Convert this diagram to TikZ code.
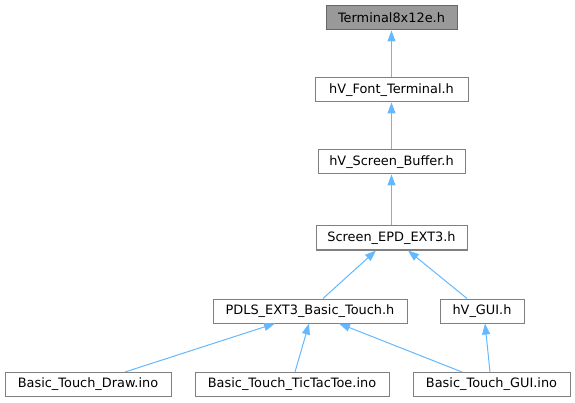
\documentclass[tikz,border=0pt]{standalone}
\usepackage{fontspec}
\setmainfont{DejaVu Sans}
\usetikzlibrary{arrows.meta}
\definecolor{edgeblue}{HTML}{63B8FF}
\definecolor{boxborder}{HTML}{808080}
\definecolor{hifill}{HTML}{999999}
\definecolor{hiborder}{HTML}{666666}
\tikzset{
  filebox/.style={draw=boxborder, line width=1pt, fill=white, minimum height=24pt,
    inner sep=0pt, font=\fontsize{12.9}{15}\selectfont, text=black},
  hibox/.style={filebox, fill=hifill, draw=hiborder},
  dep/.style={draw=edgeblue, line width=1pt, -{Triangle[length=11pt,width=8pt]}},
}
\begin{document}
\begin{tikzpicture}[x=1pt,y=1pt]
\useasboundingbox (0,0) rectangle (575,-403);
\node[hibox, minimum width=131pt] (term) at (391.5,-18) {Terminal8x12e.h};
\node[filebox, minimum width=153pt] (font) at (391.5,-90) {hV\_Font\_Terminal.h};
\node[filebox, minimum width=147pt] (buf) at (391.5,-162) {hV\_Screen\_Buffer.h};
\node[filebox, minimum width=151pt] (scr) at (391.5,-238) {Screen\_EPD\_EXT3.h};
\node[filebox, minimum width=194pt] (pdls) at (310,-311) {PDLS\_EXT3\_Basic\_Touch.h};
\node[filebox, minimum width=84pt] (gui) at (482,-311) {hV\_GUI.h};
\node[filebox, minimum width=166pt] (draw) at (88,-384.5) {Basic\_Touch\_Draw.ino};
\node[filebox, minimum width=194pt] (ttt) at (292,-384.5) {Basic\_Touch\_TicTacToe.ino};
\node[filebox, minimum width=157pt] (guiino) at (491.5,-384.5) {Basic\_Touch\_GUI.ino};

\draw[dep] (font.north) -- (term.south);
\draw[dep] (buf.north) -- (font.south);
\draw[dep] (scr.north) -- (buf.south);
\draw[dep] ([xshift=13pt]pdls.north) -- ([xshift=-15.5pt]scr.south);
\draw[dep] ([xshift=-15pt]gui.north) -- ([xshift=16.5pt]scr.south);
\draw[dep] ([xshift=37pt]draw.north) -- ([xshift=-35pt]pdls.south);
\draw[dep] ([xshift=3pt]ttt.north) -- ([xshift=-1pt]pdls.south);
\draw[dep] ([xshift=-29.5pt]guiino.north) -- ([xshift=29pt]pdls.south);
\draw[dep] ([xshift=-1.5pt]guiino.north) -- ([xshift=3pt]gui.south);
\end{tikzpicture}
\end{document}
